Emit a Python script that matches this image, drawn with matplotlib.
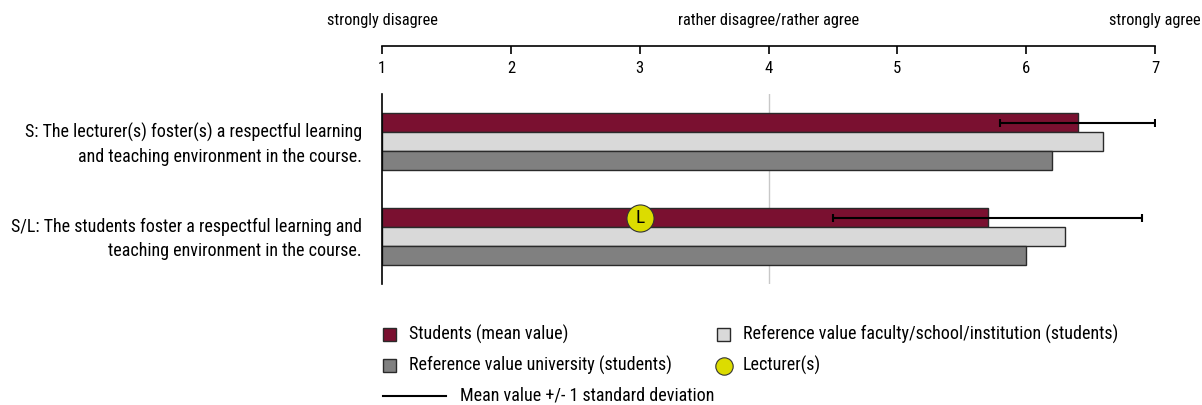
import matplotlib
matplotlib.use("Agg")
import matplotlib.pyplot as plt
from matplotlib import font_manager as fm
import numpy as np

names = {f.name for f in fm.fontManager.ttflist}
FONT = "DejaVu Sans"
for cand in ["Liberation Sans Narrow", "Arial Narrow", "DejaVu Sans Condensed", "Roboto Condensed"]:
    if cand in names:
        FONT = cand
        break
plt.rcParams["font.family"] = [FONT, "DejaVu Sans"]

# ---------------- data ----------------
questions = [
    "S: The lecturer(s) foster(s) a respectful learning\nand teaching environment in the course.",
    "S/L: The students foster a respectful learning and\nteaching environment in the course.",
]
students_mean = [6.4, 5.7]
students_sd = [0.6, 1.2]
faculty_ref = [6.6, 6.3]
university_ref = [6.2, 6.0]
lecturer = [None, 3.0]
scale_ticks = [1, 2, 3, 4, 5, 6, 7]
scale_labels = {1: "strongly disagree", 4: "rather disagree/rather agree", 7: "strongly agree"}

c_students = "#7A1030"
c_faculty = "#D9D9D9"
c_univ = "#808080"
c_lect = "#DCDC00"
edge = "#2a2a2a"

W, H = 1202, 405
fig = plt.figure(figsize=(W / 100, H / 100), dpi=100)

def fr(x0, y0, x1, y1):
    return [x0 / W, 1 - y1 / H, (x1 - x0) / W, (y1 - y0) / H]

# main axes
ax = fig.add_axes(fr(382, 94, 1155, 284))
ax.set_xlim(1, 7)
ax.set_ylim(1.5, -0.5)
y = np.arange(len(questions))
h = 0.2
ax.axvline(4, color="#c8c8c8", lw=1, zorder=0)
ax.barh(y - h, np.array(students_mean) - 1, left=1, height=h, color=c_students, edgecolor=edge, lw=1, zorder=2)
ax.barh(y, np.array(faculty_ref) - 1, left=1, height=h, color=c_faculty, edgecolor=edge, lw=1, zorder=2)
ax.barh(y + h, np.array(university_ref) - 1, left=1, height=h, color=c_univ, edgecolor=edge, lw=1, zorder=2)
ax.errorbar(students_mean, y - h, xerr=students_sd, fmt="none", ecolor="black", elinewidth=1.5,
            capsize=3, capthick=1.5, zorder=4)
for i, v in enumerate(lecturer):
    if v is not None:
        ax.plot([v], [i - h], "o", ms=19.5, mfc=c_lect, mec="#333333", mew=0.8, zorder=5)
        ax.text(v, i - h + 0.01, "L", ha="center", va="center", fontsize=14, zorder=6)
for s in ["top", "right", "bottom"]:
    ax.spines[s].set_visible(False)
ax.spines["left"].set_linewidth(1.2)
ax.set_xticks([])
ax.set_yticks([])
for i, q in enumerate(questions):
    ax.text(-0.026, i + 0.03, q, transform=ax.get_yaxis_transform(), ha="right", va="center",
            fontsize=13, linespacing=1.42, multialignment="right")

# top scale axes
axt = fig.add_axes(fr(382, 20, 1155, 46))
axt.set_xlim(1, 7)
axt.set_ylim(0, 1)
for s in ["top", "right", "left"]:
    axt.spines[s].set_visible(False)
axt.spines["bottom"].set_linewidth(1.2)
axt.set_yticks([])
axt.set_xticks(scale_ticks)
axt.set_xticklabels([str(t) for t in scale_ticks], fontsize=12)
axt.tick_params(axis="x", direction="out", length=6, width=1.2, pad=5)
for k, lab in scale_labels.items():
    axt.text(k, 0.97, lab, ha="center", va="center", fontsize=11.8)
axt.patch.set_alpha(0)

# legend overlay
axl = fig.add_axes([0, 0, 1, 1])
axl.set_xlim(0, W)
axl.set_ylim(H, 0)
axl.axis("off")
axl.patch.set_alpha(0)
def sq(x, yy, col):
    axl.add_patch(plt.Rectangle((x, yy - 6.5), 13, 13, facecolor=col, edgecolor=edge, lw=1))
LF = 13
sq(383, 334, c_students)
axl.text(409, 334, "Students (mean value)", va="center", fontsize=LF)
sq(717, 334, c_faculty)
axl.text(743, 334, "Reference value faculty/school/institution (students)", va="center", fontsize=LF)
sq(383, 365, c_univ)
axl.text(409, 365, "Reference value university (students)", va="center", fontsize=LF)
axl.plot([724], [366], "o", ms=12.5, mfc=c_lect, mec="#333333", mew=0.8)
axl.text(743, 365, "Lecturer(s)", va="center", fontsize=LF)
axl.plot([383, 446], [396, 396], color="black", lw=1.5)
axl.text(460, 395, "Mean value +/- 1 standard deviation", va="center", fontsize=LF)

fig.savefig("out.png", dpi=100)
